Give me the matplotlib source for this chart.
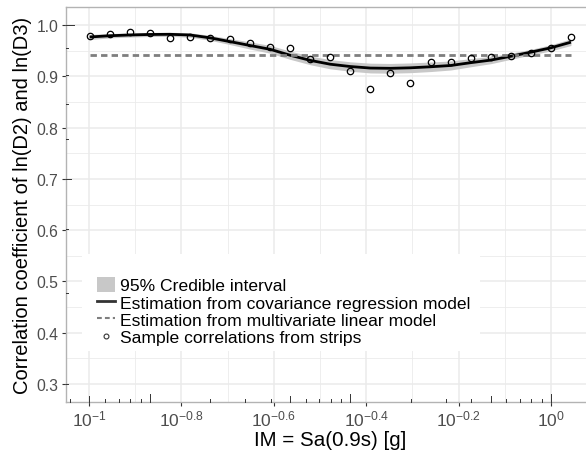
#!/usr/bin/env python3
# corr_im_plot.py

import numpy as np
import matplotlib
matplotlib.use("Agg")
import matplotlib.pyplot as plt
from matplotlib.lines import Line2D
from matplotlib.patches import Patch, Rectangle
import matplotlib.transforms as mtransforms

plt.rcParams["font.family"] = ["Liberation Sans", "DejaVu Sans"]
plt.rcParams["mathtext.fontset"] = "custom"
plt.rcParams["mathtext.rm"] = "Liberation Sans"
plt.rcParams["mathtext.it"] = "Liberation Sans:italic"

# ln(IM) of the strips (x axis is ln-scaled, labelled in powers of ten)
ln_im = [-2.3, -2.2, -2.1, -2.0, -1.9, -1.8, -1.7, -1.6, -1.5, -1.4, -1.3, -1.2, -1.1,
         -1.0, -0.9, -0.8, -0.7, -0.6, -0.5, -0.4, -0.3, -0.2, -0.1, 0.0, 0.1]

# sample correlations from strips
rho_sample = [0.979, 0.983, 0.986, 0.985, 0.975, 0.976, 0.975, 0.972, 0.964, 0.958,
              0.955, 0.934, 0.938, 0.910, 0.876, 0.906, 0.886, 0.927, 0.928, 0.936,
              0.938, 0.940, 0.946, 0.955, 0.977]

# covariance regression estimate and 95% credible band
rho_cov = [0.9766, 0.9790, 0.9805, 0.9815, 0.9818, 0.9805, 0.9750, 0.9676, 0.9600, 0.9526,
           0.9410, 0.9310, 0.9235, 0.9190, 0.9160, 0.9155, 0.9165, 0.9185, 0.9210, 0.9265,
           0.9315, 0.9390, 0.9470, 0.9555, 0.9665]
rho_lo = [0.9716, 0.9748, 0.9765, 0.9775, 0.9778, 0.9762, 0.9702, 0.9618, 0.9530, 0.9450,
          0.9330, 0.9225, 0.9145, 0.9098, 0.9065, 0.9060, 0.9070, 0.9092, 0.9122, 0.9185,
          0.9245, 0.9330, 0.9415, 0.9495, 0.9600]
rho_hi = [0.9816, 0.9832, 0.9845, 0.9855, 0.9858, 0.9848, 0.9798, 0.9734, 0.9670, 0.9602,
          0.9490, 0.9395, 0.9325, 0.9282, 0.9255, 0.9250, 0.9260, 0.9278, 0.9298, 0.9345,
          0.9385, 0.9450, 0.9525, 0.9615, 0.9730]

# multivariate linear model (constant)
rho_mlm = 0.941

x_exponents = [-1, -0.8, -0.6, -0.4, -0.2, 0]
x_labels = ["$\\mathregular{10^{-1}}$", "$\\mathregular{10^{-0.8}}$", "$\\mathregular{10^{-0.6}}$",
            "$\\mathregular{10^{-0.4}}$", "$\\mathregular{10^{-0.2}}$", "$\\mathregular{10^{0}}$"]
y_ticks = [0.3, 0.4, 0.5, 0.6, 0.7, 0.8, 0.9, 1.0]

GRID = "#ebebeb"
BORDER = "#b3b3b3"


def log_ticks(lo, hi, pows):
    # positions like annotation_logticks (base 10), with long/mid/short class
    out = []
    for p in pows:
        for k in range(1, 10):
            v = np.log10(k * 10.0 ** p)
            if lo <= v <= hi:
                out.append((v, 0 if k == 1 else (1 if k == 5 else 2)))
    return out


def main():
    fig = plt.figure(figsize=(5.86, 4.56), dpi=100)
    ax = fig.add_axes([0.1118, 0.1162, 0.9036, 0.8662])

    xlim = (-2.42, 0.22)
    ylim = (0.265, 1.035)

    # grid
    maj_x = [e * np.log(10) for e in x_exponents]
    min_x = [(e + 0.1) * np.log(10) for e in x_exponents[:-1]]
    for v in maj_x:
        ax.axvline(v, color=GRID, lw=1.1, zorder=0)
    for v in min_x:
        ax.axvline(v, color=GRID, lw=0.6, zorder=0)
    for v in y_ticks:
        ax.axhline(v, color=GRID, lw=1.1, zorder=0)
    for v in y_ticks[:-1]:
        ax.axhline(v + 0.05, color=GRID, lw=0.6, zorder=0)

    ax.fill_between(ln_im, rho_lo, rho_hi, color="#c8c8c8", lw=0, zorder=2)
    ax.plot(ln_im, rho_cov, color="black", lw=2, zorder=3, solid_capstyle="butt")
    ax.plot([ln_im[0], ln_im[-1]], [rho_mlm, rho_mlm], color="#7f7f7f", lw=2,
            dashes=(2.3, 1.5), zorder=3)
    ax.plot(ln_im, rho_sample, ls="none", marker="o", ms=4.6, mfc="none",
            mec="black", mew=0.9, zorder=4)

    # log tick annotation along bottom and left
    tx = mtransforms.blended_transform_factory(ax.transData, ax.transAxes)
    ty = mtransforms.blended_transform_factory(ax.transAxes, ax.transData)
    lens_x = [0.0215, 0.0144, 0.0071]
    lens_y = [0.016, 0.0108, 0.0053]
    for v, c in log_ticks(xlim[0], xlim[1], [-3, -2, -1, 0]):
        ax.plot([v, v], [0, lens_x[c]], color="#333333", lw=0.7, transform=tx,
                clip_on=False, zorder=5)
    for v, c in log_ticks(ylim[0], ylim[1], [0, 1]):
        ax.plot([0, lens_y[c]], [v, v], color="#333333", lw=0.7, transform=ty,
                clip_on=False, zorder=5)

    ax.set_xlim(*xlim)
    ax.set_ylim(*ylim)
    ax.set_xticks(maj_x)
    ax.set_xticklabels(x_labels)
    ax.set_yticks(y_ticks)
    ax.set_yticklabels([f"{v:.1f}" for v in y_ticks])
    ax.tick_params(axis="both", length=3, width=0.8, color="#333333",
                   labelsize=11.3, labelcolor="#4d4d4d", pad=2)
    ax.tick_params(axis="x", labelsize=12.5)

    for s in ["top", "left", "bottom"]:
        ax.spines[s].set_color(BORDER)
        ax.spines[s].set_linewidth(1.0)
    ax.spines["right"].set_visible(False)

    ax.set_xlabel("IM = Sa(0.9s) [g]", fontsize=14.8, labelpad=1)
    ax.set_ylabel("Correlation coefficient of ln(D2) and ln(D3)", fontsize=14.5, labelpad=3)

    # legend background box (covers grid only)
    ax.add_patch(Rectangle((0.031, 0.129), 0.752, 0.246, transform=ax.transAxes,
                           facecolor="white", edgecolor="none", zorder=0.5))

    handles = [
        Patch(facecolor="#c8c8c8", edgecolor="none"),
        Line2D([], [], color="#333333", lw=2),
        Line2D([], [], color="#7f7f7f", lw=1.5, dashes=(2.3, 1.5)),
        Line2D([], [], ls="none", marker="o", ms=3.5, mfc="none", mec="#333333", mew=0.8),
    ]
    labels = [
        "95% Credible interval",
        "Estimation from covariance regression model",
        "Estimation from multivariate linear model",
        "Sample correlations from strips",
    ]
    leg = ax.legend(handles, labels, loc="upper left", bbox_to_anchor=(0.060, 0.317),
                    fontsize=12.6, frameon=False, borderpad=0,
                    handlelength=1.0, handleheight=0.93, handletextpad=0.3,
                    labelspacing=0.05, borderaxespad=0)
    leg.set_zorder(6)

    fig.savefig("out.png", dpi=100)


if __name__ == "__main__":
    main()
